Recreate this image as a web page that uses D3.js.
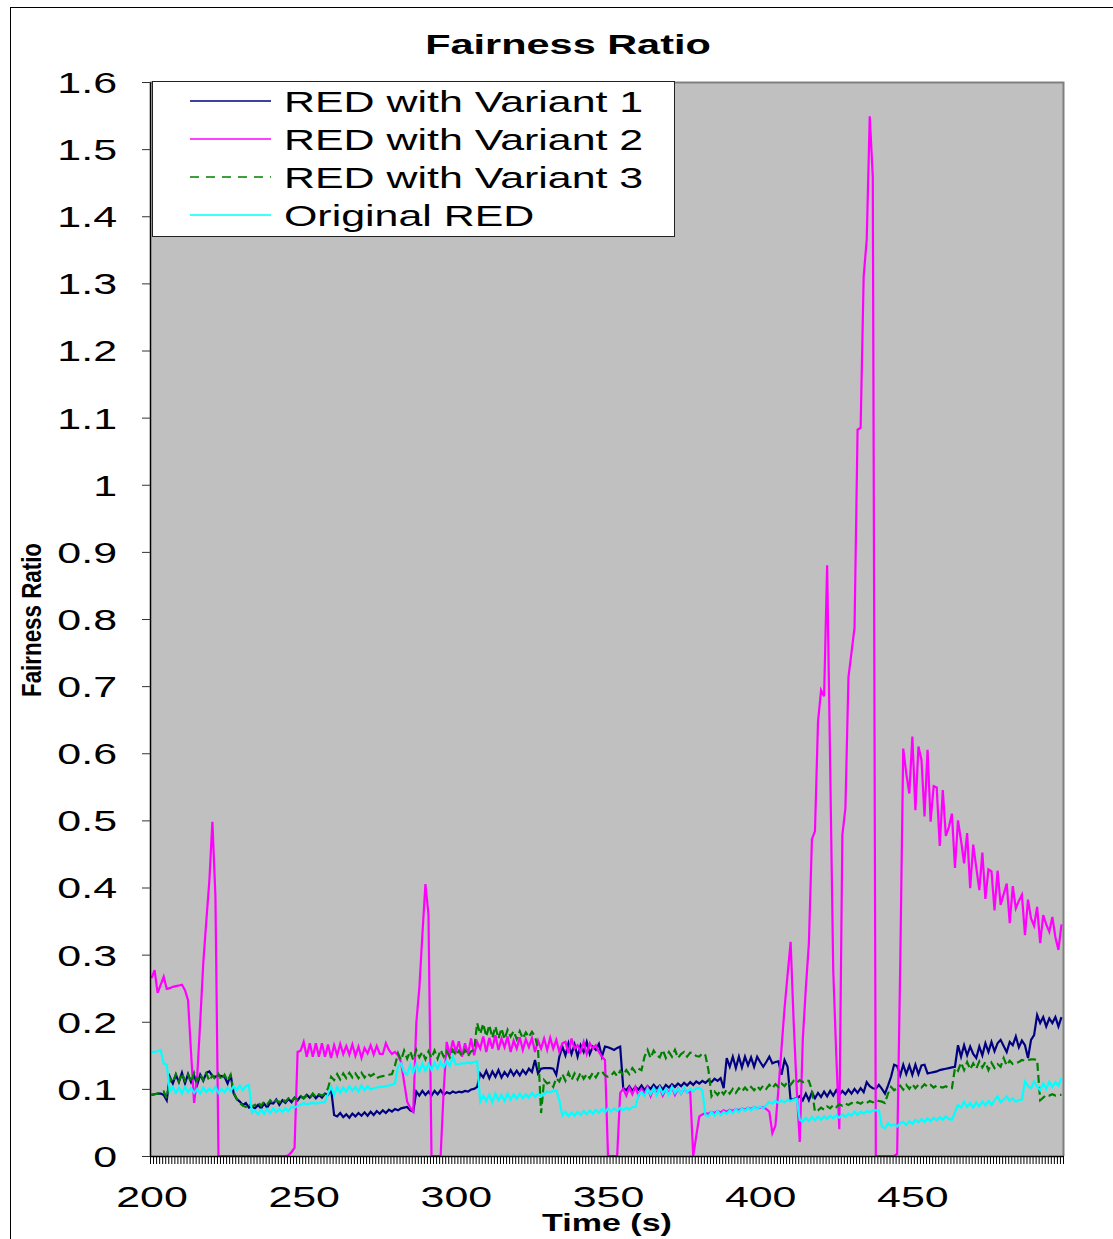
<!DOCTYPE html>
<html>
<head>
<meta charset="utf-8">
<script src="https://cdn.jsdelivr.net/npm/d3@7/dist/d3.min.js"></script>
<style>
  body { margin: 0; background: #fff; }
  text { font-family: "Liberation Sans", Arial, sans-serif; fill: #000; }
</style>
</head>
<body>
<script>
var width = 1113, height = 1239;
var plot_left = 150, plot_right = 1063, plot_top = 82, plot_bottom = 1156;
var stretch = 1.48;  // the original picture has its text stretched sideways

// time axis categories (s), one sample per second
var seconds = d3.range(200, 500);
var xTickValues = [200, 250, 300, 350, 400, 450];
var yTickValues = [0, 0.1, 0.2, 0.3, 0.4, 0.5, 0.6, 0.7, 0.8, 0.9, 1, 1.1, 1.2, 1.3, 1.4, 1.5, 1.6];
var yTickLabels = ['0', '0.1', '0.2', '0.3', '0.4', '0.5', '0.6', '0.7', '0.8', '0.9', '1', '1.1', '1.2', '1.3', '1.4', '1.5', '1.6'];
var seriesNames = ['RED with Variant 1', 'RED with Variant 2', 'RED with Variant 3', 'Original RED'];

var variant1 = [
  .091, .092, .093, .093, .091, .083, .118, .108, .121, .110,
  .124, .108, .122, .110, .120, .106, .121, .112, .124, .126,
  .119, .118, .120, .119, .118, .108, .121, .093, .085, .081,
  .076, .079, .072, .074, .071, .076, .071, .078, .072, .079,
  .078, .084, .076, .083, .079, .085, .080, .087, .083, .089,
  .086, .091, .087, .092, .086, .091, .087, .093, .091, .100,
  .061, .059, .064, .058, .062, .057, .063, .059, .064, .060,
  .065, .060, .066, .061, .067, .063, .068, .064, .069, .066,
  .070, .068, .071, .072, .073, .068, .066, .096, .090, .097,
  .091, .096, .090, .097, .092, .098, .091, .095, .093, .096,
  .094, .096, .095, .097, .096, .099, .100, .103, .123, .117,
  .127, .116, .126, .118, .128, .117, .125, .119, .128, .120,
  .127, .120, .128, .122, .130, .125, .143, .123, .130, .131,
  .131, .131, .130, .121, .148, .163, .150, .168, .152, .166,
  .148, .165, .155, .170, .152, .163, .158, .167, .148, .163,
  .162, .160, .158, .161, .163, .101, .098, .104, .097, .103,
  .099, .105, .098, .104, .100, .106, .101, .105, .099, .106,
  .102, .107, .103, .108, .104, .109, .105, .110, .106, .111,
  .108, .112, .109, .113, .110, .115, .112, .116, .101, .146,
  .133, .148, .131, .148, .132, .148, .135, .147, .133, .148,
  .140, .133, .140, .148, .138, .140, .141, .121, .143, .133,
  .083, .085, .086, .089, .083, .093, .083, .095, .086, .094,
  .088, .096, .089, .097, .090, .098, .091, .097, .092, .099,
  .093, .100, .094, .101, .095, .110, .104, .101, .100, .106,
  .100, .093, .105, .118, .136, .134, .120, .136, .122, .135,
  .121, .136, .122, .135, .136, .123, .124, .125, .126, .128,
  .129, .130, .131, .132, .133, .165, .148, .165, .150, .163,
  .152, .146, .163, .150, .168, .155, .170, .156, .168, .173,
  .164, .155, .170, .165, .178, .162, .172, .165, .146, .173,
  .180, .210, .198, .207, .193, .205, .198, .207, .193, .207
];

var variant2 = [
  .265, .277, .243, .255, .267, .249, .250, .252, .253, .254,
  .255, .247, .232, .153, .079, .118, .200, .287, .350, .410,
  .498, .386, 0, 0, 0, 0, 0, 0, 0, 0,
  0, 0, 0, 0, 0, 0, 0, 0, 0, 0,
  0, 0, 0, 0, 0, .001, .006, .012, .155, .157,
  .170, .148, .168, .148, .168, .148, .168, .148, .166, .146,
  .165, .150, .167, .152, .164, .151, .166, .149, .163, .146,
  .161, .153, .165, .151, .164, .152, .152, .168, .158, .152,
  .155, .150, .140, .110, .081, .072, .066, .198, .250, .330,
  .405, .360, 0, 0, 0, 0, .098, .170, .150, .172,
  .155, .171, .148, .168, .152, .175, .150, .170, .160, .178,
  .155, .176, .160, .180, .158, .175, .162, .178, .155, .172,
  .160, .177, .158, .174, .162, .176, .155, .172, .160, .175,
  .158, .176, .160, .173, .155, .168, .170, .153, .175, .160,
  .165, .155, .170, .152, .168, .160, .165, .155, .148, .143,
  0, 0, 0, 0, .094, .100, .090, .102, .092, .103,
  .090, .100, .093, .103, .089, .101, .093, .102, .090, .100,
  .094, .103, .091, .100, .093, .101, .095, .096, 0, .030,
  .059, .062, .064, .063, .066, .064, .067, .065, .068, .066,
  .069, .067, .070, .068, .071, .069, .072, .070, .073, .071,
  .072, .073, .070, .066, .034, .045, .100, .160, .220, .270,
  .319, .200, .100, .021, .174, .250, .317, .472, .484, .647,
  .694, .685, .880, .580, .277, .150, .040, .478, .518, .713,
  .750, .787, 1.082, 1.085, 1.310, 1.365, 1.549, 1.459, 0, 0,
  0, 0, 0, 0, 0, .003, .280, .607, .570, .540,
  .625, .515, .610, .590, .506, .605, .498, .551, .549, .462,
  .545, .477, .490, .510, .429, .500, .470, .436, .481, .399,
  .464, .430, .396, .452, .383, .427, .424, .366, .425, .374,
  .390, .406, .347, .402, .369, .380, .389, .329, .382, .354,
  .343, .371, .317, .359, .345, .334, .356, .326, .307, .345
];

var variant3 = [
  .091, .092, .093, .094, .096, .086, .116, .110, .122, .111,
  .123, .112, .121, .110, .124, .112, .122, .113, .123, .112,
  .120, .114, .122, .113, .121, .112, .121, .095, .085, .079,
  .075, .073, .078, .074, .076, .080, .075, .081, .077, .083,
  .078, .083, .080, .085, .081, .086, .082, .087, .084, .089,
  .086, .090, .087, .093, .088, .092, .090, .093, .101, .118,
  .113, .122, .114, .123, .116, .124, .117, .123, .116, .124,
  .117, .123, .119, .122, .116, .118, .119, .120, .121, .122,
  .135, .153, .143, .157, .145, .156, .143, .158, .147, .155,
  .144, .156, .146, .157, .145, .158, .148, .156, .147, .158,
  .150, .157, .148, .158, .149, .156, .158, .198, .182, .197,
  .178, .195, .176, .193, .175, .190, .174, .188, .178, .186,
  .174, .186, .175, .184, .177, .185, .178, .160, .064, .113,
  .108, .110, .103, .116, .111, .122, .112, .124, .113, .123,
  .114, .124, .115, .122, .116, .124, .117, .125, .126, .120,
  .118, .120, .125, .119, .127, .120, .128, .122, .131, .125,
  .130, .128, .148, .158, .146, .157, .150, .147, .158, .146,
  .155, .148, .158, .146, .152, .155, .148, .154, .153, .149,
  .148, .153, .150, .128, .089, .096, .091, .098, .092, .099,
  .093, .100, .094, .101, .096, .102, .097, .103, .098, .104,
  .099, .105, .100, .106, .101, .107, .103, .108, .104, .111,
  .106, .112, .109, .113, .110, .113, .112, .098, .066, .068,
  .072, .069, .074, .071, .076, .073, .077, .075, .078, .076,
  .079, .077, .080, .078, .081, .079, .082, .080, .083, .082,
  .081, .079, .093, .103, .098, .101, .105, .099, .106, .100,
  .107, .101, .106, .102, .107, .103, .106, .102, .105, .103,
  .102, .104, .101, .101, .131, .127, .139, .128, .140, .129,
  .138, .130, .141, .132, .140, .128, .139, .131, .137, .133,
  .146, .135, .142, .137, .138, .140, .143, .142, .143, .144,
  .144, .143, .083, .087, .091, .090, .092, .090, .091, .091
];

var originalRed = [
  .155, .155, .156, .158, .138, .136, .096, .103, .094, .102,
  .093, .103, .095, .101, .094, .100, .093, .102, .095, .100,
  .096, .103, .094, .100, .095, .102, .097, .104, .098, .105,
  .098, .104, .106, .064, .068, .062, .069, .063, .070, .064,
  .071, .065, .070, .066, .071, .067, .073, .072, .075, .076,
  .079, .077, .078, .079, .078, .079, .080, .080, .093, .103,
  .091, .103, .094, .102, .096, .104, .097, .103, .096, .105,
  .098, .104, .099, .101, .102, .103, .103, .104, .105, .106,
  .108, .133, .138, .125, .121, .136, .124, .137, .126, .138,
  .127, .137, .128, .139, .130, .140, .132, .142, .134, .148,
  .136, .137, .138, .138, .139, .138, .140, .141, .081, .090,
  .082, .092, .080, .093, .083, .091, .082, .093, .084, .092,
  .085, .093, .086, .092, .087, .094, .088, .093, .089, .092,
  .096, .095, .097, .098, .083, .060, .066, .059, .065, .060,
  .066, .061, .067, .062, .068, .063, .069, .064, .070, .065,
  .071, .066, .071, .067, .072, .068, .072, .069, .073, .073,
  .091, .096, .089, .100, .092, .101, .090, .102, .093, .100,
  .091, .103, .094, .100, .093, .102, .095, .100, .096, .101,
  .101, .098, .061, .059, .066, .060, .067, .061, .066, .063,
  .068, .064, .070, .065, .071, .067, .072, .068, .073, .070,
  .074, .071, .076, .081, .078, .082, .079, .083, .080, .084,
  .082, .084, .085, .054, .051, .057, .052, .058, .053, .059,
  .054, .059, .055, .060, .056, .061, .057, .062, .058, .063,
  .060, .066, .061, .066, .063, .067, .065, .068, .068, .068,
  .044, .041, .049, .045, .047, .044, .049, .051, .046, .052,
  .048, .054, .050, .055, .051, .056, .052, .057, .053, .058,
  .054, .059, .055, .054, .065, .076, .072, .081, .073, .079,
  .072, .080, .074, .081, .075, .082, .076, .083, .089, .080,
  .084, .089, .082, .086, .081, .083, .084, .111, .104, .101,
  .111, .104, .098, .108, .100, .111, .103, .110, .105, .116
];

var seriesValues = [variant1, variant2, variant3, originalRed];
var seriesColors = ['#000080', '#ff00ff', '#008000', '#00ffff'];
var seriesDash = [null, null, '8,4', null];

function plot_it() {
	var svg = d3.select('body').append('svg').attr('width', width).attr('height', height);

	// outer chart border (right and bottom edges fall outside the picture)
	svg.append('rect').attr('x', 10.5).attr('y', 7.5)
		.attr('width', 1200).attr('height', 1300)
		.attr('fill', '#fff').attr('stroke', '#000').attr('stroke-width', 1);

	// Scales: categories are centred in 1-second slots
	var xScale = d3.scaleLinear().domain([199.5, 499.5]).range([plot_left, plot_right]);
	var yScale = d3.scaleLinear().domain([0, 1.6]).range([plot_bottom, plot_top]);

	// plot background
	svg.append('rect').attr('class', 'bkgd')
		.attr('x', plot_left).attr('y', plot_top)
		.attr('width', plot_right-plot_left).attr('height', plot_bottom-plot_top)
		.attr('fill', '#c0c0c0');
	svg.append('path')
		.attr('d', 'M'+plot_left+','+(plot_top+0.5)+'H'+(plot_right+0.5)+'V'+plot_bottom)
		.attr('fill', 'none').attr('stroke', '#808080').attr('stroke-width', 2);

	// Lines
	svg.append('clipPath').attr('id', 'plotclip').append('rect')
		.attr('x', plot_left).attr('y', plot_top)
		.attr('width', plot_right-plot_left).attr('height', plot_bottom-plot_top);
	var lines = svg.append('g').attr('class', 'lines').attr('clip-path', 'url(#plotclip)');
	seriesValues.forEach(function(vals, i) {
		var line = d3.line()
			.x(function(d, j) { return xScale(seconds[j]); })
			.y(function(d) { return yScale(d); });
		lines.append('path')
			.datum(vals)
			.attr('d', line)
			.attr('fill', 'none')
			.attr('stroke', seriesColors[i])
			.attr('stroke-width', 2.2)
			.attr('stroke-linejoin', 'miter')
			.attr('stroke-dasharray', seriesDash[i]);
	});

	// Y axis
	var yAxis = svg.append('g').attr('class', 'y_axis')
		.attr('transform', 'translate('+plot_left+',0)')
		.call(d3.axisLeft(yScale).tickValues(yTickValues).tickSize(8).tickSizeOuter(0)
			.tickFormat(function(d, i) { return yTickLabels[i]; }));
	yAxis.select('.domain').attr('stroke', '#000').attr('stroke-width', 1.5);
	yAxis.selectAll('.tick line').attr('stroke', '#333');
	yAxis.selectAll('.tick text')
		.attr('x', -33/stretch)
		.attr('dy', '0.36em')
		.attr('transform', 'scale('+stretch+',1)')
		.style('font-size', '29px')
		.style('font-family', '"Liberation Sans", Arial, sans-serif');

	// X axis: one small tick per category, labels every 50 s
	var minorTicks = d3.range(199.5, 500, 1);
	var xMinor = svg.append('g').attr('class', 'x_axis')
		.attr('transform', 'translate(0,'+plot_bottom+')')
		.call(d3.axisBottom(xScale).tickValues(minorTicks).tickSize(8).tickSizeOuter(0).tickFormat(''));
	xMinor.select('.domain').attr('stroke', '#000').attr('stroke-width', 1.5);
	xMinor.selectAll('.tick line').attr('stroke', '#000');

	var xLabels = svg.append('g').attr('class', 'x_labels')
		.attr('transform', 'translate(0,'+plot_bottom+')')
		.call(d3.axisBottom(xScale).tickValues(xTickValues).tickSize(0).tickPadding(0));
	xLabels.select('.domain').remove();
	xLabels.selectAll('.tick text')
		.attr('y', 30)
		.attr('dy', '0.71em')
		.attr('transform', 'scale('+stretch+',1)')
		.style('font-size', '29px')
		.style('font-family', '"Liberation Sans", Arial, sans-serif');

	// Titles
	svg.append('text')
		.attr('transform', 'translate(568,54) scale('+stretch+',1)')
		.style('text-anchor', 'middle')
		.style('font-size', '28px').style('font-weight', 'bold')
		.text('Fairness Ratio');
	svg.append('text')
		.attr('transform', 'translate(607,1231) scale('+stretch+',1)')
		.style('text-anchor', 'middle')
		.style('font-size', '23px').style('font-weight', 'bold')
		.text('Time (s)');
	svg.append('text')
		.attr('transform', 'translate(41,620) rotate(-90)')
		.style('text-anchor', 'middle')
		.style('font-size', '27px').style('font-weight', 'bold')
		.attr('textLength', 154).attr('lengthAdjust', 'spacingAndGlyphs')
		.text('Fairness Ratio');

	// Legend
	var legend = svg.append('g').attr('class', 'legend');
	legend.append('rect')
		.attr('x', 152.5).attr('y', 81.5).attr('width', 522).attr('height', 155)
		.attr('fill', '#fff').attr('stroke', '#222').attr('stroke-width', 1);
	seriesNames.forEach(function(name, i) {
		var yy = 101 + i*38;
		legend.append('line')
			.attr('x1', 190).attr('x2', 271).attr('y1', yy).attr('y2', yy)
			.attr('stroke', seriesColors[i]).attr('stroke-width', 1.5)
			.attr('stroke-dasharray', i == 2 ? '9,7' : null);
		legend.append('text')
			.attr('transform', 'translate(284,'+(yy+11)+') scale('+stretch+',1)')
			.style('font-size', '29px')
			.text(name);
	});
}

plot_it();
</script>
</body>
</html>
